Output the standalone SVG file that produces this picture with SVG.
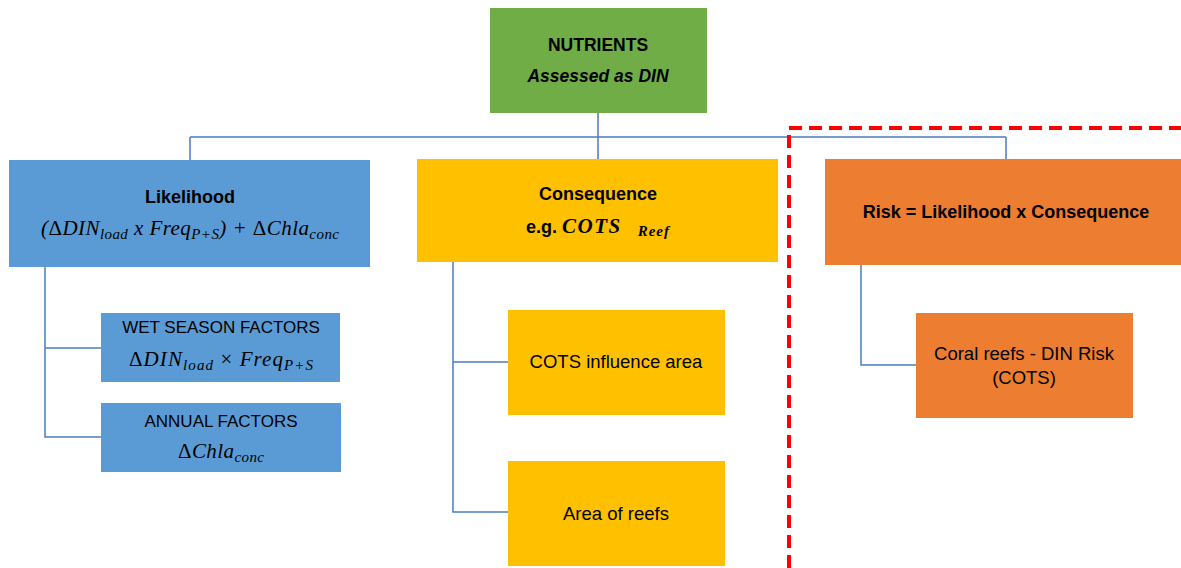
<svg xmlns="http://www.w3.org/2000/svg" width="1181" height="568" viewBox="0 0 1181 568">
<style>
.t{font-family:"Liberation Sans",Arial,sans-serif;fill:#000;text-anchor:middle}
.b{font-weight:bold}
.m{font-family:"Liberation Serif","Times New Roman",serif;font-style:italic;fill:#000;text-anchor:middle}
.up{font-style:normal}
.c{stroke:#4a7ebb;stroke-width:1.5;fill:none}
</style>
<rect width="1181" height="568" fill="#fff"/>
<g id="connectors">
<path class="c" d="M598,113 V137 M190,137 H1006 M190,137 V160 M598,137 V159 M1006,137 V159"/>
<path class="c" d="M45,267 V437 H101 M45,348 H101"/>
<path class="c" d="M453,262 V512 H508 M453,362 H508"/>
<path class="c" d="M861,265 V365 H916"/>
</g>
<g id="nutrients">
<rect x="490" y="8" width="217" height="105" fill="#70ad47"/>
<text class="t b" x="598" y="51" font-size="17.5">NUTRIENTS</text>
<text class="t b" x="598" y="82" font-size="17.5" font-style="italic">Assessed as DIN</text>
</g>
<g id="likelihood">
<rect x="9" y="160" width="361" height="107" fill="#5b9bd5"/>
<text class="t b" x="190" y="203" font-size="18">Likelihood</text>
<text class="m" x="190" y="235" font-size="21" textLength="298" lengthAdjust="spacing">(<tspan class="up">Δ</tspan>DIN<tspan font-size="15" dy="4">load</tspan><tspan dy="-4"> x Freq</tspan><tspan font-size="15" dy="4">P+S</tspan><tspan dy="-4">) + </tspan><tspan class="up">Δ</tspan>Chla<tspan font-size="15" dy="4">conc</tspan></text>
</g>
<g id="consequence">
<rect x="417" y="159" width="361" height="103" fill="#ffc000"/>
<text class="t b" x="598" y="200" font-size="18">Consequence</text>
<text class="t b" x="598" y="233" font-size="18">e.g. <tspan font-family="Liberation Serif, serif" font-style="italic" font-size="21" letter-spacing="1.5">COTS</tspan><tspan font-family="Liberation Serif, serif" font-style="italic" font-size="15" dx="16" dy="3" letter-spacing="1">Reef</tspan></text>
</g>
<g id="risk">
<rect x="825" y="159" width="360" height="106" fill="#ed7d31"/>
<text class="t b" x="1006" y="218" font-size="18">Risk = Likelihood x Consequence</text>
</g>
<g id="wet-season">
<rect x="101" y="313" width="239" height="69" fill="#5b9bd5"/>
<text class="t" x="221" y="333" font-size="17">WET SEASON FACTORS</text>
<text class="m" x="221" y="366" font-size="21" textLength="184" lengthAdjust="spacing"><tspan class="up">Δ</tspan>DIN<tspan font-size="15" dy="4">load</tspan><tspan dy="-4" class="up"> × </tspan>Freq<tspan font-size="15" dy="4">P+S</tspan></text>
</g>
<g id="annual">
<rect x="101" y="403" width="240" height="69" fill="#5b9bd5"/>
<text class="t" x="221" y="427" font-size="17">ANNUAL FACTORS</text>
<text class="m" x="221" y="458" font-size="21" textLength="86" lengthAdjust="spacing"><tspan class="up">Δ</tspan>Chla<tspan font-size="15" dy="4">conc</tspan></text>
</g>
<g id="cots-influence">
<rect x="508" y="310" width="217" height="105" fill="#ffc000"/>
<text class="t" x="616" y="368" font-size="18.5">COTS influence area</text>
</g>
<g id="area-reefs">
<rect x="508" y="461" width="217" height="105" fill="#ffc000"/>
<text class="t" x="616" y="520" font-size="18.5">Area of reefs</text>
</g>
<g id="coral-reefs">
<rect x="916" y="313" width="217" height="105" fill="#ed7d31"/>
<text class="t" x="1024" y="360" font-size="18.5">Coral reefs - DIN Risk</text>
<text class="t" x="1024" y="384" font-size="18.5">(COTS)</text>
</g>
<path id="risk-boundary" d="M789,568 V128 H1185" fill="none" stroke="#ff0000" stroke-width="4" stroke-dasharray="13 7"/>
</svg>
